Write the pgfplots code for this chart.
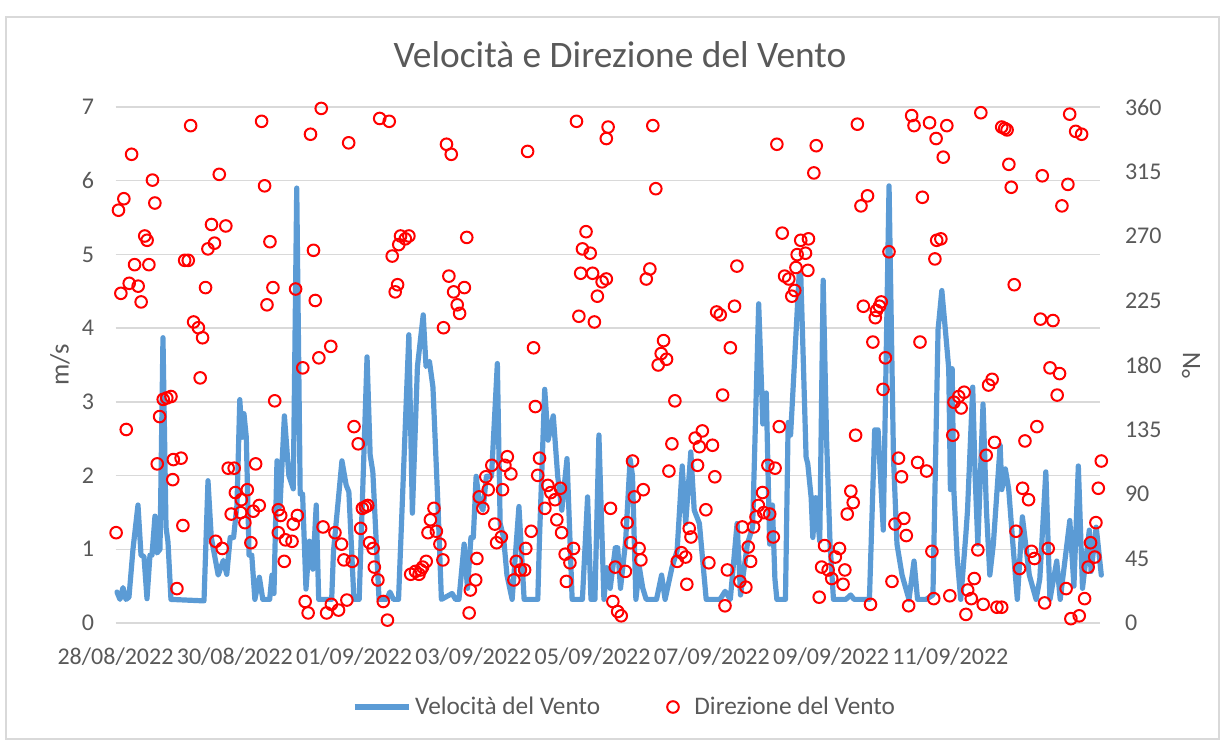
\documentclass[border=0pt]{standalone}
\usepackage{pgfplots}
\pgfplotsset{compat=1.18}
\usepackage{fontspec}
\setmainfont{Carlito}
\definecolor{linea}{HTML}{5B9BD5}
\definecolor{testo}{HTML}{595959}
\definecolor{griglia}{HTML}{D9D9D9}
\pgfplotsset{
  base/.style={
    at={(57.75pt,59.5pt)}, anchor=south west,
    scale only axis, width=492pt, height=258pt,
    xmin=0, xmax=16.5,
    axis line style={draw=none},
    major tick length=0pt,
    clip=false,
    /pgf/number format/assume math mode=true,
    ticklabel style={font=\fontsize{12}{14}\selectfont, text=testo},
    label style={font=\fontsize{13.3}{15}\selectfont, text=testo},
  },
  linelegend/.style={legend image code/.code={\draw[##1] (0pt,0pt) -- (27pt,0pt);}},
  circlegend/.style={legend image code/.code={\draw[##1] plot coordinates {(5pt,0pt)}; \path (13.5pt,0pt);}},
}
\begin{document}
\begin{tikzpicture}
\path[use as bounding box] (0pt,0pt) rectangle (611.5pt,371pt);
\draw[griglia, line width=0.6pt] (3pt,1.5pt) rectangle (609.5pt,362.5pt);
\begin{axis}[base,
  ymin=0, ymax=7, ytick={0,1,...,7},
  ymajorgrids, grid style={griglia, line width=0.75pt},
  xtick={0,2,4,6,8,10,12,14},
  xticklabels={28/08/2022,30/08/2022,01/09/2022,03/09/2022,05/09/2022,07/09/2022,09/09/2022,11/09/2022},
  xticklabel style={yshift=-9pt},
  yticklabel style={xshift=-7.25pt},
  ylabel={m/s},
  ylabel style={at={(axis description cs:-0.0564,0.5)}, anchor=center},
  title={Velocità e Direzione del Vento},
  title style={at={(axis description cs:0.5,1)}, anchor=center, yshift=20pt, xshift=6.25pt, font=\fontsize{18.7}{22}\selectfont, text=testo},
]
\addplot[linea, line width=2.6pt, line join=round, line cap=round] coordinates {
(0.025,0.42)(0.075,0.32)(0.126,0.48)(0.176,0.32)(0.226,0.35)(0.293,1.0)(0.377,1.6)(0.428,0.92)(0.478,0.9)(0.528,0.33)(0.578,0.92)(0.612,0.92)(0.662,1.45)(0.696,0.95)(0.746,1.0)(0.796,3.87)(0.847,1.3)(0.880,1.1)(0.930,0.32)(1.484,0.3)(1.551,1.93)(1.606,1.16)(1.722,0.65)(1.809,0.85)(1.866,0.66)(1.923,1.16)(1.980,1.16)(2.037,1.6)(2.084,3.03)(2.124,2.52)(2.154,2.84)(2.193,2.52)(2.240,0.92)(2.285,0.92)(2.337,0.32)(2.412,0.62)(2.470,0.32)(2.585,0.32)(2.624,0.65)(2.657,0.4)(2.708,2.2)(2.758,1.58)(2.832,2.81)(2.907,2.0)(2.981,1.82)(3.039,5.9)(3.097,1.75)(3.137,1.75)(3.194,0.46)(3.252,1.11)(3.309,0.73)(3.366,1.6)(3.407,0.32)(3.625,0.32)(3.655,0.97)(3.797,2.2)(3.868,1.87)(3.913,1.78)(3.998,0.32)(4.086,0.32)(4.218,3.61)(4.270,2.28)(4.315,2.05)(4.419,0.32)(4.545,0.32)(4.602,0.42)(4.661,0.32)(4.746,0.32)(4.919,3.91)(4.978,1.49)(5.063,3.48)(5.160,4.18)(5.207,3.48)(5.264,3.55)(5.323,3.2)(5.408,1.58)(5.465,0.32)(5.645,0.4)(5.702,0.32)(5.759,0.32)(5.846,1.07)(5.903,0.47)(5.960,1.16)(6.000,1.16)(6.047,1.99)(6.104,1.62)(6.161,1.53)(6.220,1.99)(6.305,1.99)(6.403,3.52)(6.450,1.35)(6.507,1.16)(6.564,0.65)(6.651,0.32)(6.765,1.58)(6.852,0.32)(7.081,0.32)(7.110,1.16)(7.197,3.17)(7.254,2.48)(7.341,2.81)(7.415,1.99)(7.484,1.53)(7.571,2.23)(7.657,0.32)(7.829,0.32)(7.916,1.71)(7.973,0.32)(8.039,0.32)(8.106,2.55)(8.190,0.32)(8.238,0.75)(8.295,0.47)(8.381,1.02)(8.421,1.02)(8.468,0.47)(8.553,1.1)(8.629,2.22)(8.669,2.0)(8.726,0.32)(8.785,0.75)(8.842,0.47)(8.899,0.32)(9.072,0.32)(9.157,0.65)(9.216,0.32)(9.330,0.75)(9.417,0.98)(9.503,2.13)(9.561,1.35)(9.647,2.32)(9.704,1.53)(9.791,1.35)(9.905,0.32)(10.136,0.32)(10.222,0.43)(10.309,0.32)(10.423,1.35)(10.481,0.38)(10.595,1.07)(10.683,1.3)(10.785,4.33)(10.855,2.7)(10.912,3.12)(10.969,1.07)(11.015,1.6)(11.057,0.6)(11.090,0.32)(11.234,0.32)(11.279,2.72)(11.320,2.55)(11.348,2.97)(11.464,4.74)(11.492,4.7)(11.580,2.25)(11.608,2.16)(11.665,1.7)(11.693,1.16)(11.740,1.7)(11.809,1.11)(11.866,4.65)(11.923,2.5)(11.982,1.07)(12.039,0.32)(12.247,0.32)(12.327,0.38)(12.384,0.32)(12.642,0.32)(12.730,2.62)(12.787,2.62)(12.874,1.26)(12.971,5.93)(13.045,2.25)(13.104,1.07)(13.189,0.65)(13.305,0.32)(13.390,0.84)(13.449,0.32)(13.591,0.32)(13.707,0.38)(13.793,3.98)(13.856,4.51)(13.913,4.0)(13.972,3.45)(14.000,1.81)(14.029,3.45)(14.057,1.81)(14.114,0.88)(14.173,0.32)(14.259,1.2)(14.287,1.53)(14.374,3.2)(14.414,2.0)(14.460,1.07)(14.547,2.97)(14.604,1.53)(14.661,0.65)(14.720,1.07)(14.834,2.41)(14.862,1.81)(14.921,2.09)(14.978,1.81)(15.035,1.2)(15.122,0.32)(15.207,1.44)(15.323,0.65)(15.437,0.32)(15.499,0.6)(15.600,2.05)(15.669,0.32)(15.783,0.84)(15.841,0.32)(16.002,1.39)(16.071,0.5)(16.145,2.13)(16.215,0.47)(16.329,1.26)(16.358,0.7)(16.445,1.3)(16.530,0.65)
};
\end{axis}
\begin{axis}[base,
  ymin=0, ymax=360, ytick={0,45,...,360},
  xtick=\empty,
  yticklabel pos=right,
  yticklabel style={xshift=9.25pt},
  ylabel={°N},
  every axis y label/.style={at={(axis description cs:1.093,0.5)}, rotate=90, anchor=center, font=\fontsize{13.3}{15}\selectfont, text=testo},
  legend columns=2,
  legend cell align=left,
  legend style={draw=none, fill=none, font=\fontsize{12.65}{14}\selectfont, text=testo,
    at={(axis description cs:0.5,0)}, anchor=center, yshift=-42pt, xshift=9pt,
    /tikz/every even column/.append style={column sep=31.5pt}},
]
\addlegendimage{linea, line width=2.6pt, linelegend}
\addlegendentry{Velocità del Vento}
\addplot[only marks, mark=o, mark size=2.9pt, red, mark options={line width=1pt}, circlegend] coordinates {
(0.27,327)(1.26,347)(2.45,350)(0.62,309)(1.74,313)(2.50,305)(0.14,296)(0.05,288)(0.66,293)(0.49,270)(0.53,267)(1.61,278)(1.85,277)(1.66,265)(1.55,261)(2.59,266)(0.32,250)(0.56,250)(1.16,253)(1.22,253)(0.23,237)(0.38,235)(0.09,230)(0.43,224)(1.51,234)(2.64,234)(2.54,222)(1.31,210)(1.39,206)(1.46,199)(1.42,171)(0.80,156)(0.86,157)(0.93,158)(0.74,144)(0.18,135)(2.67,155)(0.70,111)(0.97,114)(1.10,115)(0.96,100)(1.89,108)(1.99,108)(2.35,111)(2.01,91)(2.21,93)(2.11,86)(1.94,76)(2.10,77)(2.31,78)(2.41,82)(2.17,70)(2.73,79)(1.13,68)(0.01,63)(1.68,57)(1.79,52)(2.27,56)(2.73,63)(1.03,24)
(3.45,359)(3.27,341)(3.91,335)(4.43,352)(4.59,350)(3.32,260)(3.02,233)(3.35,225)(4.78,270)(4.86,268)(4.92,270)(4.75,264)(4.64,256)(4.73,236)(4.69,231)(3.14,178)(3.41,185)(3.61,193)(4.00,137)(4.07,125)(2.77,75)(2.85,58)(2.96,57)(3.05,75)(2.98,69)(2.83,43)(3.48,67)(3.68,63)(3.79,55)(3.83,44)(3.97,43)(3.88,16)(3.74,9)(3.62,13)(3.54,7)(3.18,15)(3.23,7)(4.11,66)(4.14,80)(4.23,82)(4.19,81)(4.26,56)(4.32,52)(4.34,39)(4.40,30)(4.49,15)(4.56,2)(4.95,34)(5.03,36)(5.12,37)(5.21,43)(5.15,39)(5.09,34)(5.24,63)(5.28,72)(5.34,80)(5.38,64)(5.44,55)(5.49,44)
(5.55,334)(5.63,327)(6.91,329)(7.73,350)(8.26,346)(8.23,338)(5.89,269)(5.59,242)(5.85,234)(5.67,231)(5.73,222)(5.77,216)(5.50,206)(7.89,273)(7.83,261)(7.96,258)(7.80,244)(8.00,244)(8.16,238)(8.23,240)(8.08,228)(7.77,214)(8.03,210)(7.01,192)(7.04,151)(5.93,7)(5.95,23)(6.04,30)(6.06,45)(6.10,88)(6.16,80)(6.25,93)(6.21,102)(6.31,110)(6.49,93)(6.53,110)(6.57,116)(6.63,104)(6.36,69)(6.39,56)(6.47,60)(6.68,30)(6.72,43)(6.79,37)(6.86,37)(6.88,52)(6.97,64)(7.11,115)(7.08,103)(7.25,96)(7.30,91)(7.37,86)(7.46,94)(7.20,80)(7.40,72)(7.48,63)(7.54,48)(7.62,42)(7.68,52)(7.56,29)
(9.01,347)(9.06,303)(8.96,247)(8.90,240)(10.42,249)(10.08,217)(10.14,215)(10.38,221)(9.19,197)(9.15,188)(9.10,180)(9.24,184)(10.31,192)(9.38,155)(10.18,159)(9.84,134)(9.72,129)(9.79,123)(10.01,124)(9.33,125)(9.28,106)(9.76,110)(10.05,102)(9.90,79)(8.67,113)(8.70,88)(8.85,93)(8.30,80)(8.58,70)(8.64,56)(8.78,52)(8.81,44)(8.38,39)(8.55,36)(8.34,15)(8.42,8)(8.48,5)(9.62,66)(9.65,60)(9.42,43)(9.49,49)(9.56,46)(9.58,27)(9.95,42)(10.26,37)(10.22,12)(10.51,67)(10.70,67)(10.74,74)(10.61,53)(10.65,43)(10.47,29)(10.57,25)(10.78,82)(10.85,91)(10.94,110)(10.87,77)(10.97,76)(11.03,60)
(11.09,334)(11.75,333)(11.71,314)(12.44,348)(13.35,354)(13.39,347)(13.65,349)(13.76,338)(12.50,291)(12.61,298)(13.53,297)(13.77,267)(13.74,254)(11.18,272)(11.49,267)(11.62,268)(11.43,257)(11.57,258)(11.41,248)(11.61,246)(11.22,242)(11.29,240)(11.39,232)(11.34,228)(12.97,259)(12.54,221)(12.74,213)(12.81,221)(12.84,224)(12.76,218)(12.70,196)(12.91,185)(12.87,163)(13.49,196)(11.13,137)(12.41,131)(11.06,108)(13.13,115)(13.18,102)(13.45,112)(13.60,106)(13.07,69)(13.22,73)(13.26,61)(12.33,92)(12.37,84)(12.27,76)(11.89,54)(12.14,52)(12.07,46)(11.84,39)(11.95,37)(12.01,31)(12.23,37)(12.20,27)(11.80,18)(12.66,13)(13.02,29)(13.30,12)(13.69,50)(13.72,17)
(13.94,347)(13.88,325)(14.51,356)(14.86,346)(14.91,345)(14.95,344)(14.98,320)(15.02,304)(16.00,355)(16.10,343)(16.20,341)(15.54,312)(15.97,306)(15.87,291)(13.84,268)(15.07,236)(15.51,212)(15.72,211)(15.67,178)(15.83,174)(15.79,159)(15.45,137)(15.25,127)(14.64,166)(14.70,170)(14.06,154)(14.14,158)(14.23,161)(14.18,150)(14.04,131)(14.74,126)(14.60,117)(15.21,94)(15.31,86)(15.10,64)(15.16,38)(15.36,50)(15.41,45)(15.64,52)(15.58,14)(14.46,51)(14.40,31)(14.29,23)(14.35,17)(13.99,19)(14.26,6)(14.55,13)(14.78,11)(14.86,11)(15.94,24)(16.02,3)(16.16,5)(16.25,17)(16.31,39)(16.42,46)(16.35,56)(16.44,70)(16.48,94)(16.53,113)
};
\addlegendentry{Direzione del Vento}
\end{axis}
\end{tikzpicture}
\end{document}
